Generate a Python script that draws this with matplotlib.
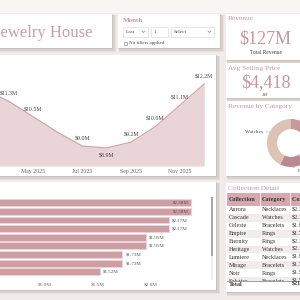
import matplotlib
matplotlib.use("Agg")
import matplotlib.pyplot as plt
from matplotlib.patches import Rectangle
import numpy as np

# ---- data ----
months = ["Mar 2025", "Apr 2025", "May 2025", "Jun 2025", "Jul 2025", "Aug 2025",
          "Sep 2025", "Oct 2025", "Nov 2025", "Dec 2025"]
revenue_m = [11.9, 11.3, 10.5, 9.7, 9.0, 8.9, 9.2, 10.0, 11.1, 12.2]
labelled = ["Apr 2025", "May 2025", "Jul 2025", "Aug 2025", "Sep 2025", "Oct 2025", "Nov 2025", "Dec 2025"]
tick_months = ["May 2025", "Jul 2025", "Sep 2025", "Nov 2025"]

bar_values = [2.38, 2.38, 2.17, 2.17, 1.95, 1.95, 1.73, 1.73, 1.52]
bar_ticks = [1.0, 1.5, 2.0]

cat_names = ["Necklaces", "Rings", "Bracelets", "Watches"]
cat_revenue = [32, 20, 21, 54]
cat_colors = ["#c9979d", "#e6cfcf", "#b98890", "#dcc3b4"]

tbl_cols = ["Collection", "Category", "Collection Revenue"]
tbl_collection = ["Aurora", "Cascade", "Celeste", "Empire", "Eternity", "Heritage",
                  "Lumiere", "Mirage", "Noir", "Solstice"]
tbl_category = ["Necklaces", "Watches", "Bracelets", "Rings", "Rings", "Watches",
                "Necklaces", "Bracelets", "Rings", "Bracelets"]
tbl_value = ["$2.38M", "$2.17M", "$1.95M", "$1.73M", "$2.38M", "$2.17M",
             "$1.95M", "$1.73M", "$1.52M", "$1.52M"]
total_value = "$21.5M"

kpi_revenue = "$127M"
kpi_asp = "$4,418"

plt.rcParams["font.family"] = ["Liberation Serif", "DejaVu Serif"]
PINK = "#c9979d"
TXT = "#444444"

fig = plt.figure(figsize=(3, 3), dpi=100)
fig.patch.set_facecolor("#f1ecea")
bg = fig.add_axes([0, 0, 1, 1])
bg.set_xlim(0, 300); bg.set_ylim(300, 0); bg.axis("off")

def px(x0, y0, x1, y1):
    return [x0 / 300, 1 - y1 / 300, (x1 - x0) / 300, (y1 - y0) / 300]

bg.add_patch(Rectangle((0, 0), 300, 12, color="#f8f5f3", zorder=0))

def card(x0, y0, x1, y1):
    for d, a in [(3.0, 0.10), (2.0, 0.15), (1.0, 0.2)]:
        bg.add_patch(Rectangle((x0 + d * 0.3, y0 + d * 0.4), x1 - x0 + d, y1 - y0 + d,
                               color="#8a817e", alpha=a, lw=0, zorder=1))
    bg.add_patch(Rectangle((x0, y0), x1 - x0, y1 - y0, color="white", lw=0, zorder=2))

card(-6, 14, 112, 48)
card(118, 14, 220, 48)
card(226, 14, 306, 60)
card(226, 63, 306, 98)
card(226, 101, 306, 176)
card(226, 183, 306, 292)
card(-6, 55, 216, 176)
card(-6, 182, 216, 290)

# title
bg.text(-6, 33, "Jewelry House", fontsize=12, color="#c9a0a6", va="center", ha="left", zorder=3)

# month slicer
bg.text(123, 20, "Month", fontsize=5, color=PINK, fontweight="bold", va="center", zorder=3)
for (x0, x1, lab, chev) in [(123, 148, "Last", True), (151, 168, "1", False), (171, 214, "Select", True)]:
    bg.add_patch(Rectangle((x0, 27), x1 - x0, 10, fill=False, ec="#dddddd", lw=0.5, zorder=3))
    bg.text(x0 + 3, 32.3, lab, fontsize=3.8, color=TXT, va="center", zorder=3)
    if chev:
        bg.plot([x1 - 6, x1 - 4.5, x1 - 3], [31, 32.5, 31], color="#888888", lw=0.5, zorder=3)
bg.add_patch(Rectangle((124, 41.5), 3, 3, fill=False, ec="#777777", lw=0.4, zorder=3))
bg.text(129, 43.3, "No filters applied", fontsize=3.6, color=TXT, va="center", zorder=3)

# KPI cards
bg.text(228, 19, "Revenue", fontsize=5.3, color=PINK, va="center", zorder=3)
bg.text(265.5, 39, kpi_revenue, fontsize=13, color=PINK, va="center", ha="center", zorder=3)
bg.text(265.5, 52.5, "Total Revenue", fontsize=4, color=TXT, va="center", ha="center", zorder=3)
bg.text(228, 68.5, "Avg Selling Price", fontsize=5.3, color=PINK, va="center", zorder=3)
bg.text(265.5, 83, kpi_asp, fontsize=13, color=PINK, va="center", ha="center", zorder=3)
bg.text(265.5, 95, "ASP", fontsize=2.5, color=TXT, va="center", ha="center", zorder=3)
bg.text(228, 106.5, "Revenue by Category", fontsize=5.3, color=PINK, va="center", zorder=3)
bg.text(228, 188, "Collection Detail", fontsize=5.3, color=PINK, va="center", zorder=3)

# donut
dax = fig.add_axes(px(267, 119, 315, 167), zorder=4)
wedges, _ = dax.pie(cat_revenue, colors=cat_colors, startangle=90, counterclock=False,
                    radius=1, wedgeprops=dict(width=0.42, lw=0))
dax.set_xlim(-1, 1); dax.set_ylim(-1, 1); dax.set_aspect("equal"); dax.axis("off")
# Watches: horizontal leader from the outer edge
yw = 0.46
xw = -np.sqrt(1 - yw ** 2)
dax.annotate(cat_names[3], xy=(xw, yw), xytext=(xw - 0.3, yw), fontsize=3.8, color=TXT,
             ha="right", va="center", annotation_clip=False,
             arrowprops=dict(arrowstyle="-", color="#bbbbbb", lw=0.5, shrinkA=0.5, shrinkB=0))
# Bracelets
w = wedges[2]
ang = np.deg2rad((w.theta1 + w.theta2) / 2)
xe, ye = np.cos(ang), np.sin(ang)
dax.annotate(cat_names[2], xy=(xe, ye), xytext=(xe + 0.25, ye - 0.15), fontsize=3.8, color=TXT,
             ha="left", va="center", annotation_clip=False,
             arrowprops=dict(arrowstyle="-", color="#bbbbbb", lw=0.5, shrinkA=0.5, shrinkB=0))

# area chart
aax = fig.add_axes(px(0, 70, 210, 166), zorder=4)
xi = list(range(len(months)))
aax.fill_between(xi, revenue_m, 7.97, color="#e9d5d7", lw=0)
aax.plot(xi, revenue_m, color="#cfa6ab", lw=0.9)
aax.set_xlim(1 - 9 / 24.4, 1 + 201 / 24.4)
aax.set_ylim(7.97, 12.92)
for i, (m, v) in enumerate(zip(months, revenue_m)):
    if m in labelled:
        below = v == min(revenue_m)
        aax.annotate(f"${v:.1f}M", (i, v), xytext=(0, -4 if below else 3.5), textcoords="offset points",
                     ha="center", va="top" if below else "bottom", fontsize=4.2, color=TXT,
                     annotation_clip=False)
aax.set_xticks([months.index(m) for m in tick_months])
aax.set_xticklabels(tick_months, fontsize=4.2, color="#666666")
aax.tick_params(axis="x", length=0, pad=2)
aax.set_yticks([])
for s in aax.spines.values():
    s.set_visible(False)
aax.patch.set_alpha(0)

# bar chart
bax = fig.add_axes(px(0, 198.5, 205, 276), zorder=4)
yb = list(range(len(bar_values)))
bax.barh(yb, bar_values, height=0.8, color="#cf9ea4", edgecolor="#ecd6d8", lw=0.6)
for y, v in zip(yb, bar_values):
    inside = v > 2.3
    bax.text(v - 0.02 if inside else v + 0.03, y, f"${v:.2f}M", fontsize=3.6, color="#555555",
             va="center", ha="right" if inside else "left")
bax.set_xlim(61 / 106, 266 / 106)
bax.set_ylim(len(bar_values) - 0.5, -0.5)
bax.set_xticks(bar_ticks)
bax.set_xticklabels([f"${t:.1f}M" for t in bar_ticks], fontsize=3.8, color="#666666")
bax.tick_params(axis="x", length=0, pad=4.5)
bax.set_yticks([])
for s in bax.spines.values():
    s.set_visible(False)
bax.patch.set_alpha(0)
bg.add_patch(Rectangle((211, 197), 1.8, 83, color="#eeeeee", lw=0, zorder=3))
bg.add_patch(Rectangle((211, 197), 1.8, 59, color="#a9a9a9", lw=0, zorder=3))

# table
col_x = [227, 260, 290, 330]
bg.add_patch(Rectangle((227, 193), 80, 13, color="#d6a9ae", lw=0, zorder=3))
for cx in col_x[1:3]:
    bg.plot([cx, cx], [193, 206], color="white", lw=0.5, zorder=3)
for j, c in enumerate(tbl_cols):
    bg.text(col_x[j] + 1.5, 199.5, c, fontsize=4.4, fontweight="bold", color="#333333",
            va="center", zorder=4)
row_h = 7.9
clip = Rectangle((227, 206), 80, 74.5, transform=bg.transData, visible=False)
bg.add_patch(clip)
for i, (a, b, v) in enumerate(zip(tbl_collection, tbl_category, tbl_value)):
    y0 = 206 + i * row_h
    if y0 > 281:
        break
    if i % 2 == 1:
        bg.add_patch(Rectangle((227, y0), 80, row_h, color="#f1eded", lw=0, zorder=3))
    for j, t in enumerate([a, b, v]):
        tx = bg.text(col_x[j] + 1.5, y0 + row_h / 2, t, fontsize=4.4, color="#333333",
                     va="center", zorder=4)
        tx.set_clip_path(clip)
bg.add_patch(Rectangle((227, 280.5), 80, 10, color="white", lw=0, zorder=5))
bg.plot([227, 306], [280.5, 280.5], color="#555555", lw=0.4, zorder=5)
bg.text(228.5, 284.5, "Total", fontsize=4.4, fontweight="bold", color="#333333", va="center", zorder=6)
bg.text(col_x[2] + 1.5, 284.5, total_value, fontsize=4.4, fontweight="bold", color="#333333",
        va="center", zorder=6)

fig.savefig("out.png", dpi=100)
